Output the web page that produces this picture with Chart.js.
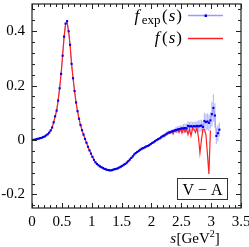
<!DOCTYPE html>
<html>
<head>
<meta charset="utf-8">
<script src="https://cdn.jsdelivr.net/npm/chart.js@4"></script>
<style>
  html, body { margin: 0; padding: 0; background: #fff; }
  #wrap { width: 249px; height: 247px; }
</style>
</head>
<body>
<div id="wrap"><canvas id="chart" width="249" height="247"></canvas></div>
<script>
// bin centres s [GeV^2]
const sBins = [
  0.0125, 0.0375, 0.0625, 0.0875, 0.1125, 0.1375, 0.1625, 0.1875, 0.2125, 0.2375,
  0.2625, 0.2875, 0.3125, 0.3375, 0.3625, 0.3875, 0.4125, 0.4375, 0.4625, 0.4875,
  0.5125, 0.5375, 0.5625, 0.5875, 0.6125, 0.6375, 0.6625, 0.6875, 0.7125, 0.7375,
  0.7625, 0.7875, 0.8125, 0.8375, 0.8625, 0.8875, 0.9125, 0.9375, 0.9625, 0.9875,
  1.0125, 1.0375, 1.0625, 1.0875, 1.1125, 1.1375, 1.1625, 1.1875, 1.2125, 1.2375,
  1.2625, 1.2875, 1.3125, 1.3375, 1.3625, 1.3875, 1.4125, 1.4375, 1.4625, 1.4875,
  1.5125, 1.5375, 1.5625, 1.5875, 1.6125, 1.6375, 1.6625, 1.6875, 1.7125, 1.7375,
  1.7625, 1.7875, 1.8125, 1.8375, 1.8625, 1.8875, 1.9125, 1.9375, 1.9625, 1.9875,
  2.0125, 2.0375, 2.0625, 2.0875, 2.1125, 2.1375, 2.1625, 2.1875, 2.2125, 2.2375,
  2.2625, 2.2875, 2.3125, 2.3375, 2.3625, 2.3875, 2.4125, 2.4375, 2.4625, 2.4875,
  2.5125, 2.5375, 2.5625, 2.5875, 2.6125, 2.6375, 2.6625, 2.6875, 2.7125, 2.7375,
  2.7625, 2.7875, 2.8125, 2.8375, 2.8625, 2.8875, 2.9125, 2.9375, 2.9625, 2.9875,
  3.0125, 3.0375, 3.0625, 3.0875, 3.1125, 3.1375
];

// measured f_exp(s)
const fExp = [
  0.000, 0.001, 0.002, 0.004, 0.005, 0.007, 0.008, 0.011, 0.013, 0.017,
  0.021, 0.027, 0.035, 0.046, 0.065, 0.087, 0.108, 0.145, 0.190, 0.243,
  0.310, 0.380, 0.428, 0.437, 0.400, 0.350, 0.280, 0.227, 0.180, 0.138,
  0.106, 0.078, 0.055, 0.036, 0.020, 0.004, -0.010, -0.025, -0.038, -0.050,
  -0.062, -0.073, -0.082, -0.088, -0.093, -0.097, -0.100, -0.103, -0.106, -0.108,
  -0.110, -0.111, -0.112, -0.111, -0.109, -0.107, -0.106, -0.104, -0.101, -0.098,
  -0.095, -0.091, -0.088, -0.083, -0.078, -0.072, -0.066, -0.060, -0.053, -0.048,
  -0.044, -0.040, -0.036, -0.032, -0.030, -0.027, -0.024, -0.022, -0.019, -0.015,
  -0.011, -0.008, -0.004, 0.000, 0.003, 0.006, 0.010, 0.014, 0.016, 0.020,
  0.024, 0.027, 0.029, 0.031, 0.033, 0.035, 0.037, 0.038, 0.040, 0.041,
  0.043, 0.042, 0.044, 0.043, 0.052, 0.050, 0.051, 0.049, 0.051, 0.050,
  0.052, 0.050, 0.052, 0.053, 0.048, 0.070, 0.066, 0.068, 0.063, 0.072,
  0.095, 0.118, 0.090, 0.015, 0.025, 0.038
];

// error on f_exp(s)
const fExpErr = [
  0.002, 0.002, 0.002, 0.002, 0.002, 0.002, 0.002, 0.002, 0.002, 0.002,
  0.002, 0.002, 0.002, 0.002, 0.002, 0.002, 0.002, 0.002, 0.002, 0.002,
  0.002, 0.002, 0.002, 0.002, 0.002, 0.002, 0.002, 0.002, 0.002, 0.002,
  0.002, 0.002, 0.002, 0.002, 0.002, 0.002, 0.002, 0.002, 0.002, 0.002,
  0.002, 0.003, 0.003, 0.003, 0.003, 0.003, 0.003, 0.003, 0.003, 0.003,
  0.003, 0.003, 0.003, 0.003, 0.003, 0.003, 0.003, 0.003, 0.003, 0.003,
  0.003, 0.003, 0.003, 0.003, 0.003, 0.003, 0.003, 0.003, 0.003, 0.003,
  0.003, 0.004, 0.004, 0.004, 0.004, 0.004, 0.004, 0.004, 0.004, 0.004,
  0.004, 0.004, 0.004, 0.004, 0.004, 0.004, 0.007, 0.007, 0.007, 0.007,
  0.007, 0.007, 0.007, 0.007, 0.007, 0.007, 0.012, 0.012, 0.012, 0.012,
  0.012, 0.017, 0.017, 0.017, 0.017, 0.017, 0.017, 0.017, 0.017, 0.017,
  0.017, 0.022, 0.022, 0.022, 0.022, 0.030, 0.030, 0.030, 0.030, 0.030,
  0.045, 0.050, 0.045, 0.030, 0.030, 0.025
];

// model f(s), first 120 bins
const fModel = [
  0.000, 0.001, 0.002, 0.004, 0.005, 0.007, 0.008, 0.011, 0.013, 0.017,
  0.021, 0.027, 0.035, 0.046, 0.065, 0.087, 0.108, 0.145, 0.190, 0.243,
  0.310, 0.380, 0.426, 0.432, 0.400, 0.350, 0.280, 0.227, 0.180, 0.138,
  0.106, 0.078, 0.055, 0.036, 0.020, 0.004, -0.010, -0.025, -0.038, -0.050,
  -0.062, -0.073, -0.082, -0.088, -0.093, -0.097, -0.100, -0.103, -0.106, -0.108,
  -0.110, -0.111, -0.112, -0.111, -0.109, -0.107, -0.106, -0.104, -0.101, -0.098,
  -0.095, -0.091, -0.088, -0.083, -0.078, -0.072, -0.066, -0.060, -0.053, -0.048,
  -0.044, -0.040, -0.036, -0.032, -0.030, -0.027, -0.024, -0.022, -0.019, -0.015,
  -0.011, -0.008, -0.004, 0.000, 0.003, 0.006, 0.010, 0.014, 0.018, 0.020,
  0.022, 0.028, 0.024, 0.032, 0.022, 0.036, 0.030, 0.040, 0.028, 0.042,
  0.026, 0.044, 0.030, 0.042, 0.020, 0.040, 0.015, 0.042, 0.040, 0.028,
  0.045, 0.010, -0.048, 0.000, 0.040, 0.038, 0.020, -0.050, -0.125, 0.035
];

const xTicks = [0, 0.5, 1, 1.5, 2, 2.5, 3, 3.5];
const yTicks = [-0.2, 0, 0.2, 0.4];

const SERIF = '"Liberation Serif", "DejaVu Serif", serif';

const expPoints = sBins.map((s, i) => ({ x: s, y: fExp[i] }));
const modelPoints = fModel.map((v, i) => ({ x: sBins[i], y: v }));

// draw a run of differently styled text pieces: [text, font, dy, gapAfter]
function richText(ctx, parts, x, y, align) {
  let w = 0;
  parts.forEach((p) => { ctx.font = p[1]; w += ctx.measureText(p[0]).width + (p[3] || 0); });
  let cx = align === "right" ? x - w : align === "center" ? x - w / 2 : x;
  ctx.textAlign = "left";
  ctx.textBaseline = "alphabetic";
  parts.forEach((p) => {
    ctx.font = p[1];
    ctx.fillText(p[0], cx, y + (p[2] || 0));
    cx += ctx.measureText(p[0]).width + (p[3] || 0);
  });
}

// error bars under everything
const errorBars = {
  id: "errorBars",
  beforeDatasetsDraw(chart) {
    const { ctx, scales: { x, y } } = chart;
    ctx.save();
    ctx.strokeStyle = "rgba(120,120,255,0.5)";
    ctx.lineWidth = 1.2;
    sBins.forEach((s, i) => {
      const px = x.getPixelForValue(s);
      ctx.beginPath();
      ctx.moveTo(px, y.getPixelForValue(fExp[i] - fExpErr[i]));
      ctx.lineTo(px, y.getPixelForValue(fExp[i] + fExpErr[i]));
      ctx.stroke();
    });
    ctx.restore();
  },
};

// frame, inward ticks, tick labels, legend, label box, axis title
const decorations = {
  id: "decorations",
  afterDraw(chart) {
    const { ctx, chartArea: a, scales: { x, y } } = chart;
    ctx.save();
    ctx.strokeStyle = "#222";
    ctx.lineWidth = 1;

    // minor + major ticks on all four sides
    for (let k = 0; k <= 35; k++) {
      const px = Math.round(x.getPixelForValue(k / 10)) + 0.5;
      const len = k % 5 === 0 ? 5 : 3;
      ctx.beginPath();
      ctx.moveTo(px, a.bottom); ctx.lineTo(px, a.bottom - len);
      ctx.moveTo(px, a.top); ctx.lineTo(px, a.top + len);
      ctx.stroke();
    }
    for (let k = -6; k <= 12; k++) {
      const py = Math.round(y.getPixelForValue(k * 0.04)) + 0.5;
      const len = k % 5 === 0 ? 5 : 3;
      ctx.beginPath();
      ctx.moveTo(a.left, py); ctx.lineTo(a.left + len, py);
      ctx.moveTo(a.right, py); ctx.lineTo(a.right - len, py);
      ctx.stroke();
    }
    ctx.lineWidth = 1.2;
    ctx.strokeRect(a.left, a.top, a.right - a.left, a.bottom - a.top);

    // tick labels
    ctx.fillStyle = "#000";
    ctx.font = "15px " + SERIF;
    ctx.textBaseline = "middle";
    ctx.textAlign = "center";
    xTicks.forEach((v) => ctx.fillText(String(v), x.getPixelForValue(v), a.bottom + 14));
    ctx.textAlign = "right";
    yTicks.forEach((v) => ctx.fillText(String(v), a.left - 7, y.getPixelForValue(v)));

    // legend
    richText(ctx, [
      ["f", "italic 17px " + SERIF, 0, 2.5],
      ["exp", "13px " + SERIF, 3, 1.5],
      ["(", "17px " + SERIF, 0, 1],
      ["s", "italic 17px " + SERIF, 0, 1],
      [")", "17px " + SERIF],
    ], 182, 21, "right");
    richText(ctx, [
      ["f", "italic 17px " + SERIF, 0, 2.5],
      ["(", "17px " + SERIF, 0, 1],
      ["s", "italic 17px " + SERIF, 0, 1],
      [")", "17px " + SERIF],
    ], 182, 43, "right");

    ctx.lineWidth = 1.3;
    ctx.strokeStyle = "rgba(110,110,255,0.7)";
    ctx.beginPath(); ctx.moveTo(188, 15.5); ctx.lineTo(223, 15.5); ctx.stroke();
    ctx.fillStyle = "#0000ee";
    ctx.fillRect(204.5, 14.5, 2.5, 2.5);
    ctx.strokeStyle = "#ff2020";
    ctx.beginPath(); ctx.moveTo(188, 38.5); ctx.lineTo(223, 38.5); ctx.stroke();

    // V - A box
    ctx.fillStyle = "#fff";
    ctx.fillRect(177.5, 178.5, 50, 21);
    ctx.strokeStyle = "#333";
    ctx.lineWidth = 1;
    ctx.strokeRect(177.5, 178.5, 50, 21);
    ctx.fillStyle = "#000";
    richText(ctx, [["V \u2212 A", "16px " + SERIF]], 202.5, 194.5, "center");

    // x axis title
    richText(ctx, [
      ["s", "italic 15px " + SERIF, 0, 0.5],
      ["[GeV", "15px " + SERIF],
      ["2", "10px " + SERIF, -6],
      ["]", "15px " + SERIF],
    ], 195, 243, "center");
    ctx.restore();
  },
};

new Chart(document.getElementById("chart"), {
  type: "scatter",
  data: {
    datasets: [
      {
        // blue markers on top
        data: expPoints,
        showLine: false,
        pointStyle: "rect",
        pointRadius: 1.5,
        pointBackgroundColor: "#0000ee",
        pointBorderWidth: 0,
        order: 0,
      },
      {
        data: modelPoints,
        showLine: true,
        borderColor: "#ff2020",
        borderWidth: 1.2,
        pointRadius: 0,
        tension: 0,
        order: 1,
      },
      {
        data: expPoints,
        showLine: true,
        borderColor: "rgba(110,110,255,0.6)",
        borderWidth: 1,
        pointRadius: 0,
        tension: 0,
        order: 2,
      },
    ],
  },
  options: {
    responsive: false,
    animation: false,
    devicePixelRatio: 1,
    layout: { padding: { top: 1, right: 8, left: 32, bottom: 39 } },
    plugins: { legend: { display: false }, tooltip: { enabled: false } },
    scales: {
      x: {
        type: "linear",
        min: 0,
        max: 3.5,
        grid: { display: false, drawTicks: false },
        border: { display: false },
        ticks: { display: false },
      },
      y: {
        min: -0.25,
        max: 0.5,
        grid: { display: false, drawTicks: false },
        border: { display: false },
        ticks: { display: false },
      },
    },
  },
  plugins: [errorBars, decorations],
});
</script>
</body>
</html>
